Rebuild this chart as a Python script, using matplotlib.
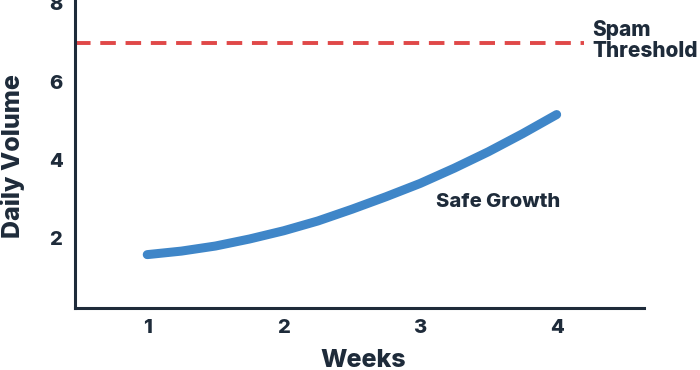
import matplotlib.pyplot as plt

plt.rcParams['font.family'] = ['Inter', 'DejaVu Sans']

# data
weeks = [1, 1.25, 1.5, 1.75, 2, 2.25, 2.5, 2.75, 3, 3.25, 3.5, 3.75, 4]
volume = [1.58, 1.67, 1.80, 1.98, 2.19, 2.44, 2.74, 3.06, 3.40, 3.79, 4.21, 4.67, 5.16]
threshold = 7
x_ticks = [1, 2, 3, 4]
y_ticks = [2, 4, 6, 8]

dark = '#1e2b3a'
blue = '#3f86c8'
red = '#e04848'

fig = plt.figure(figsize=(7, 3.7), dpi=100)
ax = fig.add_axes([0.107, 0.168, 0.813, 0.865])

# growth curve
ax.plot(weeks, volume, color=blue, linewidth=6.5, solid_capstyle='round',
        solid_joinstyle='round')

# threshold line
ax.hlines(threshold, 0.47, 4.2, colors=red, linestyles=(0, (4, 2.5)), linewidth=2.8)

ax.text(4.26, threshold + 0.05, 'Spam\nThreshold', ha='left', va='center',
        fontsize=15, fontweight='heavy', color=dark, linespacing=1.1)
ax.text(3.57, 2.93, 'Safe Growth', ha='center', va='center',
        fontsize=14.5, fontweight='heavy', color=dark)

ax.set_xlim(0.47, 4.64)
ax.set_ylim(0.22, 8.4)
ax.set_xticks(x_ticks)
ax.set_yticks(y_ticks)
ax.tick_params(length=0, labelsize=14.5, colors=dark)
ax.tick_params(axis='x', pad=8)
ax.tick_params(axis='y', pad=9)
for lab in ax.get_xticklabels() + ax.get_yticklabels():
    lab.set_fontweight('heavy')

ax.set_xlabel('Weeks', fontsize=18, fontweight='heavy', color=dark)
ax.set_ylabel('Daily Volume', fontsize=18, fontweight='heavy', color=dark)
ax.xaxis.set_label_coords(0.506, -0.128)
ax.yaxis.set_label_coords(-0.088, 0.475)

for s in ['top', 'right']:
    ax.spines[s].set_visible(False)
for s in ['left', 'bottom']:
    ax.spines[s].set_color(dark)
    ax.spines[s].set_linewidth(2.2)

fig.savefig('out.png', dpi=100)
